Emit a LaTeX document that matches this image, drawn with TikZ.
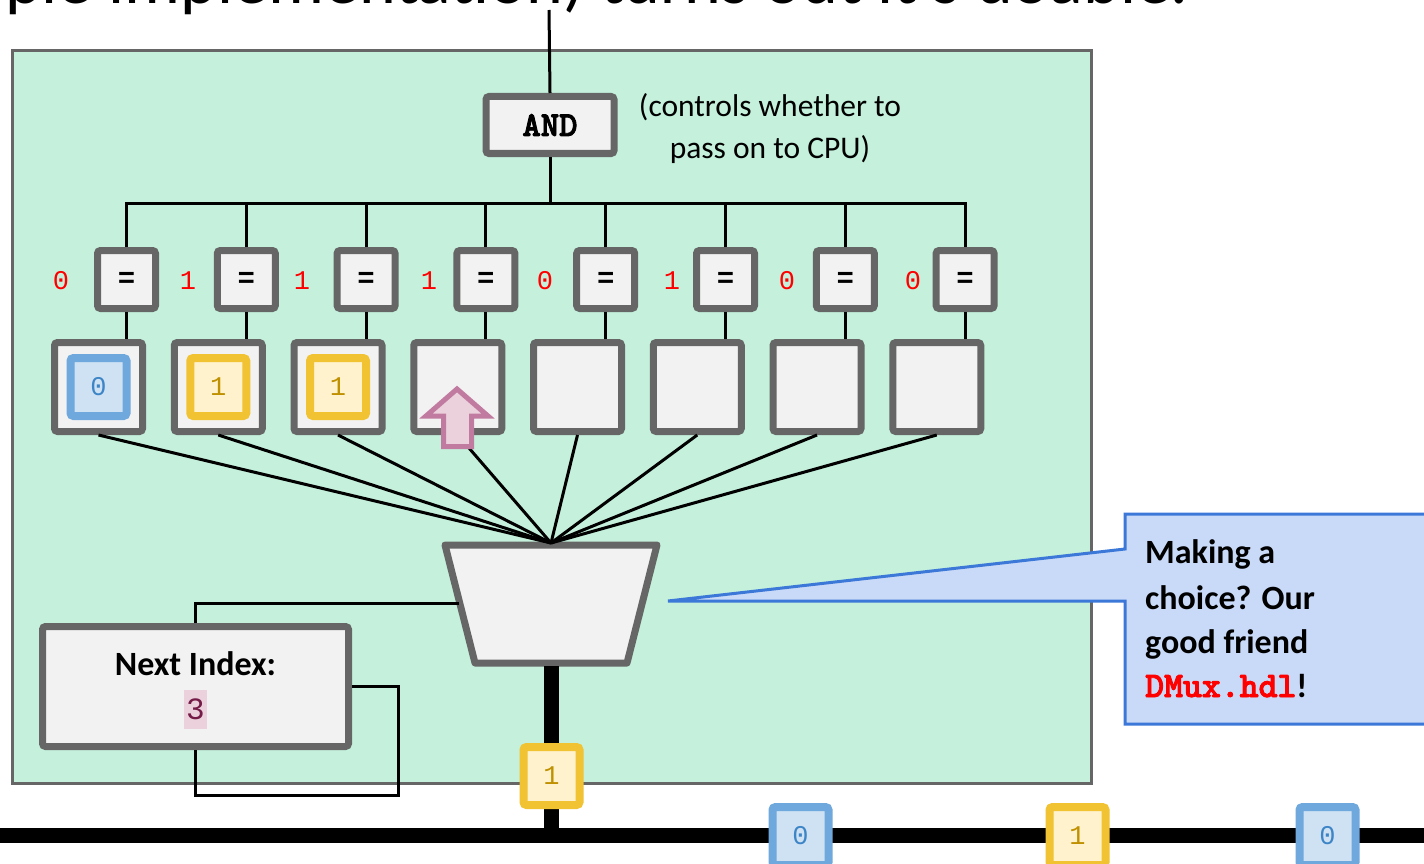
\documentclass[tikz,border=0pt]{standalone}
\usepackage{fontspec}
\setmainfont{Carlito}
\newfontfamily\digits{Liberation Mono}
\newfontfamily\slab{lmmonolt10-bold.otf}[FakeBold=2.5]
\usetikzlibrary{shapes.geometric}

\definecolor{panel}{RGB}{196,240,220}
\definecolor{edge}{RGB}{102,102,102}
\definecolor{boxfill}{RGB}{242,242,242}
\definecolor{bitblue}{RGB}{111,168,220}
\definecolor{bluefill}{RGB}{207,226,243}
\definecolor{bluetext}{RGB}{61,133,198}
\definecolor{bityellow}{RGB}{241,194,50}
\definecolor{yellowfill}{RGB}{255,242,204}
\definecolor{yellowtext}{RGB}{191,144,0}
\definecolor{pinkline}{RGB}{194,123,160}
\definecolor{pinkfill}{RGB}{234,209,220}
\definecolor{idxtext}{RGB}{116,27,71}
\definecolor{noteline}{RGB}{60,120,216}
\definecolor{notefill}{RGB}{201,218,248}
\definecolor{bitred}{RGB}{255,0,0}

\begin{document}
\begin{tikzpicture}[x=1pt,y=-1pt,
  gate/.style={draw=edge, line width=7pt, fill=boxfill, rounded corners=3pt, inner sep=0pt},
  eqbox/.style={gate, minimum width=58pt, minimum height=58pt,
    font=\digits\bfseries\fontsize{29}{29}\selectfont},
  regbox/.style={gate, minimum width=88pt, minimum height=89pt},
  bitbox/.style={line width=8pt, rounded corners=3pt, inner sep=0pt,
    minimum width=56pt, minimum height=58pt, font=\digits\fontsize{27}{27}\selectfont},
  bitzero/.style={bitbox, draw=bitblue, fill=bluefill, text=bluetext},
  bitone/.style={bitbox, draw=bityellow, fill=yellowfill, text=yellowtext},
  wire/.style={line width=3pt, black},
  bus/.style={line width=15pt, black},
  redbit/.style={text=bitred, inner sep=0pt, font=\digits\fontsize{27}{27}\selectfont},
  annot/.style={anchor=base, inner sep=0pt, font=\fontsize{31.5}{41}\selectfont},
  notetext/.style={anchor=base west, inner sep=0pt, font=\bfseries\fontsize{34}{44.7}\selectfont},
]
\useasboundingbox[fill=white] (0,0) rectangle (1424,864);

% slide title running off the top edge
\node[anchor=base west, inner sep=0pt, font=\fontsize{70}{80}\selectfont] (title) at (5,4)
  {ple implementation) turns out it's doable.};

% green enclosure
\node[draw=edge, line width=3pt, fill=panel, minimum width=1079pt, minimum height=732pt,
  inner sep=0pt] (panel) at (551.5,417) {};

% AND gate and its remark
\node[gate, minimum width=128pt, minimum height=57pt,
  font=\slab\fontsize{35}{35}\selectfont] (and) at (550,125) {AND};
\node[annot] (remark1) at (770,117) {(controls whether to};
\node[annot] (remark2) at (770,158) {pass on to CPU)};

\coordinate (cpu) at (549,10);
\draw[wire] (cpu) -- (and.north);

% comparators and registers
\foreach \i in {1,...,8} {
  \pgfmathsetmacro\ex{126.5+119.8*(\i-1)}
  \pgfmathsetmacro\rx{98.5+119.75*(\i-1)}
  \node[eqbox] (e\i) at (\ex,279.5) {=};
  \node[regbox] (r\i) at (\rx,387) {};
}

% expected bits beside the comparators
\foreach \x/\v [count=\i] in {61/0,188/1,302/1,429/1,545/0,672/1,787/0,913/0}
  \node[redbit] (d\i) at (\x,281) {\v};

% wiring: comparators to the AND gate
\coordinate (tree) at (551,203);
\draw[wire] (e1.north) |- (tree) -| (e8.north);
\draw[wire] (and.south) -- (and.south |- tree);
\foreach \i in {2,...,7}
  \draw[wire] (e\i.north) -- (e\i.north |- tree);
\foreach \i in {1,...,8}
  \draw[wire] (e\i.south) -- (e\i.south |- r\i.north);

% stored bits
\node[bitzero] (v1) at (r1) {0};
\node[bitone] (v2) at (r2) {1};
\node[bitone] (v3) at (r3) {1};

% demultiplexer
\coordinate (muxN) at (551,543);
\coordinate (muxW) at (459,603);
\coordinate (muxS) at (551,666);
\draw[draw=edge, fill=boxfill, line width=7pt, line join=round]
  (445,545) -- (657,545) -- (627,663) -- (475,663) -- cycle;

% fan from the registers into the demultiplexer
\foreach \i in {1,...,8}
  \draw[wire] (r\i.south) -- (muxN);

% pointer to the next free register
\draw[draw=pinkline, fill=pinkfill, line width=5pt, line join=miter]
  (457,389) -- (488,416) -- (471.5,416) -- (471.5,446.5) -- (443.5,446.5)
  -- (443.5,416) -- (426,416) -- cycle;

% next index register
\node[gate, minimum width=306pt, minimum height=120pt] (ni) at (195.5,686.5) {};
\node[anchor=base, inner sep=0pt, font=\bfseries\fontsize{34}{34}\selectfont]
  (nilabel) at (195.5,675) {Next Index:};
\node[fill=pinkfill, text=idxtext, inner sep=0pt, minimum width=23pt, minimum height=39pt,
  font=\digits\fontsize{31}{31}\selectfont] (nival) at (195.5,709.5) {3};

\draw[wire] (ni.north) |- (muxW);
\coordinate (loop) at (398,795);
\draw[wire] (ni.east) -| (loop) -| (ni.south);

% output line and shared bus
\coordinate (tap) at (551,835);
\coordinate (busW) at (0,835);
\coordinate (busE) at (1424,835);
\draw[bus] (muxS) -- (tap);
\draw[bus] (busW) -- (busE);
\node[bitone] (out) at (551.5,776) {1};
\node[bitzero] (s1) at (800.5,836) {0};
\node[bitone] (s2) at (1077.5,836) {1};
\node[bitzero] (s3) at (1327.5,836) {0};

% callout
\coordinate (tip) at (668,601);
\draw[draw=noteline, fill=notefill, line width=3pt, line join=miter]
  (1125,514) -- (1440,514) -- (1440,724) -- (1125,724) -- (1125,601)
  -- (tip) -- (1125,549) -- cycle;
\node[notetext] (note1) at (1145,563) {Making a};
\node[notetext] (note2) at (1145,609) {choice? Our};
\node[notetext] (note3) at (1145,653) {good friend};
\node[notetext] (note4) at (1145,697)
  {{\slab\fontsize{36}{36}\selectfont\color{bitred}DMux.hdl}!};
\end{tikzpicture}
\end{document}
